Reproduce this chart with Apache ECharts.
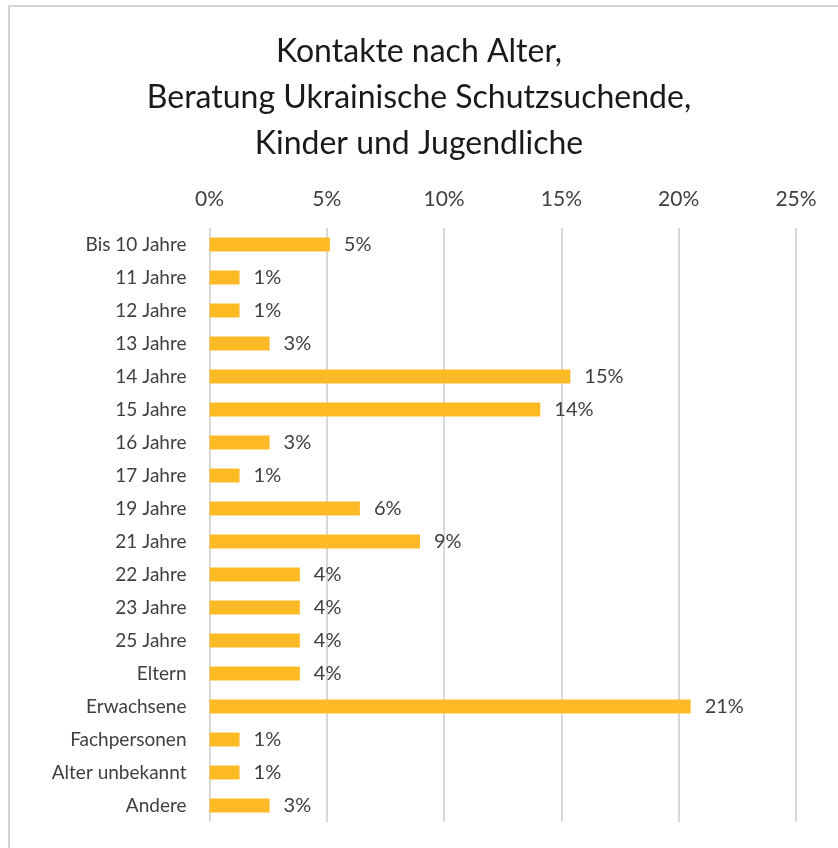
<!DOCTYPE html>
<html>
<head>
<meta charset="utf-8">
<script src="https://cdn.jsdelivr.net/npm/echarts@6/dist/echarts.min.js"></script>
<style>
  html, body { margin: 0; padding: 0; background: #fff; }
  #chart { width: 838px; height: 848px; }
</style>
</head>
<body>
<div id="chart"></div>
<script>
const categories = [
  "Bis 10 Jahre", "11 Jahre", "12 Jahre", "13 Jahre", "14 Jahre", "15 Jahre",
  "16 Jahre", "17 Jahre", "19 Jahre", "21 Jahre", "22 Jahre", "23 Jahre",
  "25 Jahre", "Eltern", "Erwachsene", "Fachpersonen", "Alter unbekannt", "Andere"
];
// share of contacts in percent
const values = [
  5.13, 1.28, 1.28, 2.56, 15.38, 14.10,
  2.56, 1.28, 6.41, 8.97, 3.85, 3.85,
  3.85, 3.85, 20.51, 1.28, 1.28, 2.56
];
const xTicks = [0, 5, 10, 15, 20, 25];

const font = "Lato, 'Open Sans', sans-serif";
const chart = echarts.init(document.getElementById("chart"));

chart.setOption({
  animation: false,
  textStyle: { fontFamily: font },
  title: {
    text: "Kontakte nach Alter,\nBeratung Ukrainische Schutzsuchende,\nKinder und Jugendliche",
    left: "center",
    top: 24,
    textStyle: { fontSize: 32, lineHeight: 46, fontWeight: "normal", color: "#1a1a1a", fontFamily: font }
  },
  graphic: [{
    type: "rect",
    shape: { x: 9, y: 6, width: 840, height: 860 },
    style: { fill: "none", stroke: "#d4d4d4", lineWidth: 2 },
    silent: true
  }],
  grid: { left: 209.5, right: 42, top: 228, bottom: 26, containLabel: false },
  xAxis: {
    type: "value",
    position: "top",
    min: xTicks[0],
    max: xTicks[xTicks.length - 1],
    interval: 5,
    axisLine: { show: false },
    axisTick: { show: false },
    axisLabel: { formatter: v => v + "%", fontSize: 21, color: "#404040", margin: 18, fontFamily: font },
    splitLine: { lineStyle: { color: "#d9d9d9", width: 2 } }
  },
  yAxis: {
    type: "category",
    data: categories,
    inverse: true,
    axisLine: { show: false },
    axisTick: { show: false },
    axisLabel: { fontSize: 19, color: "#404040", margin: 23, fontFamily: font }
  },
  series: [{
    type: "bar",
    data: values,
    barWidth: 14,
    itemStyle: { color: "#FDBA24" },
    label: {
      show: true,
      position: "right",
      distance: 14,
      fontSize: 20,
      color: "#404040",
      fontFamily: font,
      formatter: p => Math.round(p.value) + "%"
    }
  }]
});
</script>
</body>
</html>
